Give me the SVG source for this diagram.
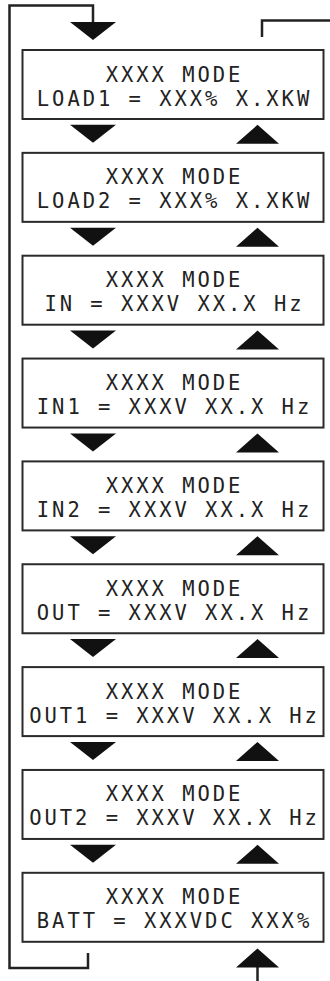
<svg xmlns="http://www.w3.org/2000/svg" width="330" height="981" viewBox="0 0 330 981">
<style>
.box{fill:#fff;stroke:#2a2a2a;stroke-width:2}
.t{font-family:"DejaVu Sans Mono","Liberation Mono",monospace;font-size:20.5px;letter-spacing:2.96px;fill:#222;text-anchor:middle}
.ln{fill:none;stroke:#222;stroke-width:2.5}
.ah{fill:#111}
</style>
<defs>
<polygon id="dn" points="70,0 116,0 93,18"/>
<polygon id="up" points="236,19 279,19 257.5,0"/>
</defs>
<rect width="330" height="981" fill="#fff"/>
<g id="connectors">
<path class="ln" d="M93,23 V5.5 H9.5 V968 H88 V953"/>
<path class="ln" d="M262,37 V20.5 H330"/>
<path class="ln" d="M257.5,966 V981"/>
<use href="#dn" class="ah" y="22"/>
<use href="#dn" class="ah" y="124.85"/>
<use href="#dn" class="ah" y="227.7"/>
<use href="#dn" class="ah" y="330.55"/>
<use href="#dn" class="ah" y="433.4"/>
<use href="#dn" class="ah" y="536.25"/>
<use href="#dn" class="ah" y="639.1"/>
<use href="#dn" class="ah" y="741.95"/>
<use href="#dn" class="ah" y="844.8"/>
<use href="#up" class="ah" y="124.85"/>
<use href="#up" class="ah" y="227.7"/>
<use href="#up" class="ah" y="330.55"/>
<use href="#up" class="ah" y="433.4"/>
<use href="#up" class="ah" y="536.25"/>
<use href="#up" class="ah" y="639.1"/>
<use href="#up" class="ah" y="741.95"/>
<use href="#up" class="ah" y="844.8"/>
<use href="#up" class="ah" y="948.5"/>
</g>
<g id="node1"><rect class="box" x="22.5" y="50" width="301" height="69"/><text class="t" x="174.5" y="81.5">XXXX MODE</text><text class="t" x="174.5" y="105.5">LOAD1 = XXX% X.XKW</text></g>
<g id="node2"><rect class="box" x="22.5" y="152.85" width="301" height="69"/><text class="t" x="174.5" y="184.35">XXXX MODE</text><text class="t" x="174.5" y="208.35">LOAD2 = XXX% X.XKW</text></g>
<g id="node3"><rect class="box" x="22.5" y="255.7" width="301" height="69"/><text class="t" x="174.5" y="287.2">XXXX MODE</text><text class="t" x="174.5" y="311.2">IN = XXXV XX.X Hz</text></g>
<g id="node4"><rect class="box" x="22.5" y="358.55" width="301" height="69"/><text class="t" x="174.5" y="390.05">XXXX MODE</text><text class="t" x="174.5" y="414.05">IN1 = XXXV XX.X Hz</text></g>
<g id="node5"><rect class="box" x="22.5" y="461.4" width="301" height="69"/><text class="t" x="174.5" y="492.9">XXXX MODE</text><text class="t" x="174.5" y="516.9">IN2 = XXXV XX.X Hz</text></g>
<g id="node6"><rect class="box" x="22.5" y="564.25" width="301" height="69"/><text class="t" x="174.5" y="595.75">XXXX MODE</text><text class="t" x="174.5" y="619.75">OUT = XXXV XX.X Hz</text></g>
<g id="node7"><rect class="box" x="22.5" y="667.1" width="301" height="69"/><text class="t" x="174.5" y="698.6">XXXX MODE</text><text class="t" x="174.5" y="722.6">OUT1 = XXXV XX.X Hz</text></g>
<g id="node8"><rect class="box" x="22.5" y="769.95" width="301" height="69"/><text class="t" x="174.5" y="801.45">XXXX MODE</text><text class="t" x="174.5" y="825.45">OUT2 = XXXV XX.X Hz</text></g>
<g id="node9"><rect class="box" x="22.5" y="872.8" width="301" height="69"/><text class="t" x="174.5" y="904.3">XXXX MODE</text><text class="t" x="174.5" y="928.3">BATT = XXXVDC XXX%</text></g>
</svg>
